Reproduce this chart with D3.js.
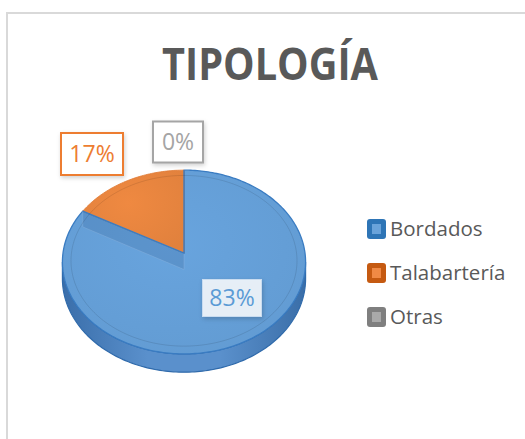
<!DOCTYPE html>
<html>
<head>
<meta charset="utf-8">
<script src="https://cdn.jsdelivr.net/npm/d3@7"></script>
<style>
  body { margin: 0; background: #fff; }
  svg { display: block; font-family: 'Open Sans', sans-serif; }
</style>
</head>
<body>
<div id="chart"></div>
<script>
// datos del gráfico
const categories = ['Bordados', 'Talabartería', 'Otras']
const values = [83, 17, 0]
const labels = ['83%', '17%', '0%']

const topColors = ['#659fd8', '#e8853f', '#a5a5a5']
const keyDark = ['#2e75b6', '#c55a11', '#7f7f7f']
const keyLight = ['#6aa3da', '#f08a45', '#a9a9a9']
const textColors = ['#5b9bd5', '#ed7d31', '#a5a5a5']

const W = 525, H = 439

const svg = d3.select('#chart').append('svg')
  .attr('width', W)
  .attr('height', H)

const defs = svg.append('defs')

// marco
svg.append('rect')
  .attr('x', 7).attr('y', 13)
  .attr('width', W + 20).attr('height', H + 20)
  .attr('fill', '#fff')
  .attr('stroke', '#d9d9d9')
  .attr('stroke-width', 2)

// titulo
svg.append('text')
  .attr('x', 270).attr('y', 80)
  .attr('text-anchor', 'middle')
  .attr('textLength', 216)
  .attr('lengthAdjust', 'spacingAndGlyphs')
  .style('font-size', '44px')
  .style('font-weight', 700)
  .style('fill', '#595959')
  .text('TIPOLOGÍA')

// pastel 3d con una perspectiva sencilla
const cx = 184, cy = 253, ra = 121, rb = 91, k = 0.098, depth = 16.5

function proj(theta, r = 1, dz = 0) {
  const u = r * Math.sin(theta)
  const v = -r * Math.cos(theta)
  const s = 1 / (1 - k * v)
  return [cx + ra * u * s, cy + (rb * v + dz) * s]
}

function arcPoints(a0, a1, r = 1, dz = 0) {
  const n = Math.max(2, Math.ceil(Math.abs(a1 - a0) / 0.02))
  return d3.range(n + 1).map(i => proj(a0 + (a1 - a0) * i / n, r, dz))
}

const line = d3.line()

const pie = d3.pie().sort(null).value(d => d)
const arcs = pie(values)

// lateral (parte frontal)
const sideGrad = defs.append('linearGradient')
  .attr('id', 'sideGrad')
  .attr('x1', 0).attr('x2', 1).attr('y1', 0).attr('y2', 0)
sideGrad.selectAll('stop')
  .data([['0%', '#3a6eaa'], ['35%', '#5a90cc'], ['65%', '#5a90cc'], ['100%', '#3a6ea8']])
  .join('stop')
  .attr('offset', d => d[0])
  .attr('stop-color', d => d[1])

const aL = Math.acos(-k), aR = 2 * Math.PI - Math.acos(-k)
const sideTop = arcPoints(aL, aR)
const sideBot = arcPoints(aL, aR, 1, depth).reverse()

svg.append('path')
  .attr('d', line(sideTop.concat(sideBot)) + 'Z')
  .attr('fill', 'url(#sideGrad)')
  .attr('stroke', '#2f6aab')
  .attr('stroke-width', 1.2)

// caras superiores
const topGrad = topColors.map((c, i) => {
  const g = defs.append('radialGradient')
    .attr('id', 'topGrad' + i)
    .attr('cx', '45%').attr('cy', '40%').attr('r', '70%')
  g.append('stop').attr('offset', '0%').attr('stop-color', d3.color(c).brighter(0.08))
  g.append('stop').attr('offset', '100%').attr('stop-color', d3.color(c).darker(0.08))
  return 'url(#topGrad' + i + ')'
})

const center = proj(0, 0)
svg.append('g').selectAll('path')
  .data(arcs.filter(d => d.endAngle - d.startAngle > 0))
  .join('path')
  .attr('d', d => line([center].concat(arcPoints(d.startAngle, d.endAngle))) + 'Z')
  .attr('fill', d => topGrad[d.index])
  .attr('stroke', d => d.index === 0 ? '#3a7cc2' : '#e07a33')
  .attr('stroke-width', d => d.index === 0 ? 1.3 : 0.8)
  .attr('stroke-linejoin', 'round')

// pared radial vista a traves del sector azul
const cut = arcs[1].startAngle
const wall = [proj(0, 0), proj(cut, 1), proj(cut, 1, depth), proj(0, 0, depth)]
svg.append('path')
  .attr('d', line(wall) + 'Z')
  .attr('fill', '#3d6ba3')
  .attr('fill-opacity', 0.28)
  .attr('stroke', '#8fb6e0')
  .attr('stroke-opacity', 0.5)
  .attr('stroke-width', 0.8)

// borde del sector azul por encima de la pared
svg.append('path')
  .attr('d', line([proj(cut, 1), proj(0, 0), proj(0, 1)]))
  .attr('fill', 'none')
  .attr('stroke', '#3a7cc2')
  .attr('stroke-width', 1.3)

// bisel interior
svg.append('path')
  .attr('d', line(arcPoints(0, 2 * Math.PI, 0.93)) + 'Z')
  .attr('fill', 'none')
  .attr('stroke', '#000')
  .attr('stroke-opacity', 0.1)
  .attr('stroke-width', 1)

// etiquetas de datos
const labelPos = [[232, 298, 59, 37], [92, 154, 62, 42], [178, 142, 50, 41]]
const lab = svg.append('g').selectAll('g')
  .data(arcs)
  .join('g')
  .attr('transform', d => `translate(${labelPos[d.index][0]},${labelPos[d.index][1]})`)

lab.append('rect')
  .attr('x', d => -labelPos[d.index][2] / 2)
  .attr('y', d => -labelPos[d.index][3] / 2)
  .attr('width', d => labelPos[d.index][2])
  .attr('height', d => labelPos[d.index][3])
  .attr('fill', d => d.index === 0 ? '#f2f6fb' : '#fff')
  .attr('fill-opacity', d => d.index === 0 ? 0.92 : 1)
  .attr('stroke', d => d.index === 0 ? '#c9dcf0' : textColors[d.index])
  .attr('stroke-width', d => d.index === 0 ? 1 : 2)
  .style('filter', 'drop-shadow(1px 2px 2px rgba(0,0,0,0.18))')

lab.append('text')
  .attr('text-anchor', 'middle')
  .attr('dy', '0.36em')
  .style('font-size', '23px')
  .style('fill', d => textColors[d.index])
  .text(d => labels[d.index])

// leyenda
const legend = svg.append('g').selectAll('g')
  .data(categories)
  .join('g')
  .attr('transform', (d, i) => `translate(367,${229 + i * 44})`)

legend.append('rect')
  .attr('x', 0).attr('y', -10)
  .attr('width', 19).attr('height', 20)
  .attr('rx', 3)
  .attr('fill', (d, i) => keyDark[i])

legend.append('rect')
  .attr('x', 5).attr('y', -5)
  .attr('width', 9).attr('height', 10)
  .attr('fill', (d, i) => keyLight[i])

legend.append('text')
  .attr('x', 23)
  .attr('dy', '0.36em')
  .style('font-size', '20.5px')
  .style('fill', '#595959')
  .text(d => d)
</script>
</body>
</html>
